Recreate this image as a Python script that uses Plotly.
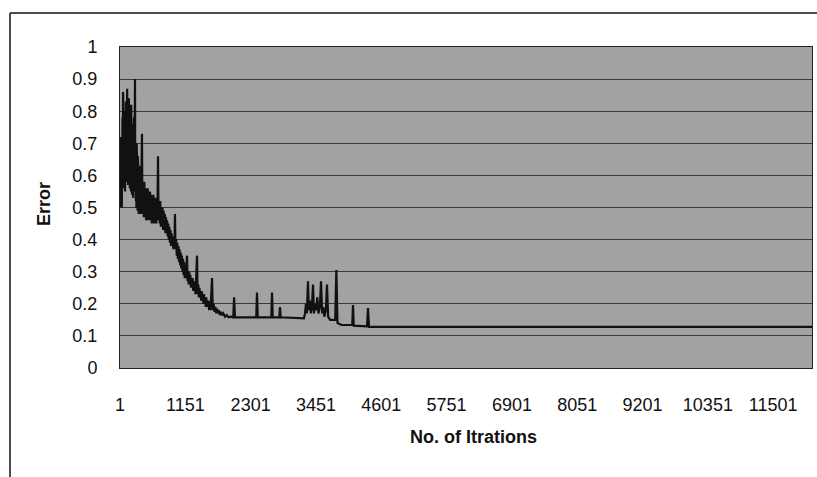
import plotly.graph_objects as go

# ---- data ----
iterations = [
    1, 5, 9, 13, 17, 21, 25, 29, 33, 37, 41, 45, 49, 55, 60, 65, 70, 75, 80, 85, 90, 95, 100,
    105, 110, 115, 120, 127, 133, 138, 143, 148, 153, 158, 163, 168, 173, 178, 183, 188, 193,
    198, 203, 208, 213, 218, 223, 228, 233, 238, 243, 248, 253, 258, 265, 270, 275, 280, 285,
    290, 295, 300, 305, 310, 315, 320, 325, 330, 335, 340, 345, 350, 355, 360, 365, 370, 378,
    388, 395, 400, 405, 410, 420, 430, 440, 450, 460, 470, 480, 490, 500, 510, 520, 530, 540,
    550, 560, 570, 580, 590, 600, 610, 620, 630, 640, 650, 660, 670, 680, 690, 700, 710, 720,
    730, 740, 750, 760, 770, 780, 790, 800, 810, 820, 830, 840, 850, 860, 870, 880, 890, 900,
    910, 920, 930, 940, 950, 960, 969, 978, 990, 1000, 1010, 1020, 1030, 1040, 1050, 1060,
    1070, 1080, 1090, 1100, 1110, 1120, 1130, 1140, 1150, 1160, 1170, 1181, 1190, 1200, 1210,
    1220, 1230, 1240, 1250, 1260, 1270, 1280, 1290, 1300, 1310, 1320, 1330, 1340, 1357, 1367,
    1380, 1390, 1400, 1410, 1420, 1430, 1440, 1450, 1460, 1470, 1480, 1490, 1500, 1510, 1520,
    1530, 1540, 1550, 1560, 1570, 1580, 1590, 1600, 1621, 1635, 1650, 1665, 1680, 1695, 1710,
    1725, 1740, 1760, 1780, 1800, 1820, 1850, 1880, 1910, 1950, 1995, 2010, 2025, 2400, 2413,
    2426, 2665, 2677, 2690, 2805, 2818, 2830, 3240, 3258, 3275, 3290, 3311, 3325, 3345, 3360,
    3380, 3399, 3415, 3435, 3455, 3475, 3495, 3520, 3540, 3560, 3580, 3600, 3625, 3645, 3665,
    3700, 3790, 3810, 3830, 3900, 4090, 4103, 4116, 4350, 4367, 4385, 12184,
]
error = [
    0.55, 0.60, 0.50, 0.66, 0.52, 0.72, 0.55, 0.62, 0.50, 0.70, 0.56, 0.78, 0.58, 0.86, 0.60, 0.74, 0.56, 0.80, 0.60, 0.72, 0.55, 0.78, 0.62,
    0.83, 0.58, 0.76, 0.62, 0.87, 0.60, 0.80, 0.57, 0.75, 0.60, 0.84, 0.58, 0.72, 0.56, 0.80, 0.58, 0.70, 0.55,
    0.82, 0.60, 0.68, 0.54, 0.76, 0.57, 0.66, 0.53, 0.72, 0.55, 0.78, 0.56, 0.70, 0.90, 0.55, 0.68, 0.52, 0.64,
    0.50, 0.70, 0.52, 0.62, 0.49, 0.66, 0.51, 0.60, 0.48, 0.62, 0.50, 0.58, 0.48, 0.63, 0.50, 0.57, 0.48, 0.62,
    0.73, 0.50, 0.56, 0.48, 0.57, 0.47, 0.58, 0.47, 0.56, 0.46, 0.55, 0.46, 0.56, 0.47, 0.54, 0.46, 0.55, 0.47,
    0.54, 0.45, 0.53, 0.46, 0.54, 0.45, 0.53, 0.46, 0.52, 0.45, 0.53, 0.47, 0.66, 0.46, 0.52, 0.45, 0.52, 0.44,
    0.50, 0.44, 0.50, 0.43, 0.49, 0.43, 0.48, 0.42, 0.47, 0.42, 0.46, 0.41, 0.45, 0.40, 0.44, 0.39, 0.43, 0.38,
    0.42, 0.38, 0.41, 0.37, 0.41, 0.38, 0.48, 0.37, 0.40, 0.35, 0.39, 0.34, 0.38, 0.33, 0.37, 0.32,
    0.36, 0.31, 0.35, 0.30, 0.34, 0.29, 0.33, 0.28, 0.32, 0.28, 0.31, 0.35, 0.27, 0.30, 0.26,
    0.30, 0.26, 0.29, 0.25, 0.28, 0.25, 0.28, 0.24, 0.27, 0.24, 0.27, 0.23, 0.26, 0.35, 0.23,
    0.26, 0.22, 0.25, 0.22, 0.24, 0.21, 0.24, 0.21, 0.23, 0.20, 0.23, 0.20, 0.22, 0.19, 0.22,
    0.19, 0.21, 0.19, 0.21, 0.18, 0.20, 0.18, 0.20, 0.28, 0.18, 0.20, 0.175, 0.19, 0.17, 0.185,
    0.17, 0.18, 0.165, 0.175, 0.165, 0.17, 0.16, 0.165, 0.158, 0.16, 0.158, 0.22, 0.158, 0.158, 0.235,
    0.158, 0.158, 0.235, 0.158, 0.158, 0.19, 0.158, 0.155, 0.17, 0.20, 0.17, 0.27, 0.18, 0.21, 0.17,
    0.19, 0.26, 0.17, 0.20, 0.18, 0.22, 0.17, 0.19, 0.27, 0.17, 0.19, 0.16, 0.18, 0.26, 0.16,
    0.15, 0.15, 0.305, 0.14, 0.134, 0.134, 0.196, 0.132, 0.13, 0.187, 0.128, 0.128,
]

x_tick_vals = [1, 1151, 2301, 3451, 4601, 5751, 6901, 8051, 9201, 10351, 11501]
y_tick_vals = [0, 0.1, 0.2, 0.3, 0.4, 0.5, 0.6, 0.7, 0.8, 0.9, 1]
y_tick_text = ["0", "0.1", "0.2", "0.3", "0.4", "0.5", "0.6", "0.7", "0.8", "0.9", "1"]
x_title = "No. of Itrations"
y_title = "Error"
last_iteration = 12184

fig = go.Figure()
fig.add_trace(go.Scatter(
    x=iterations, y=error, mode="lines",
    line=dict(color="#111111", width=2.2),
    showlegend=False, hoverinfo="skip",
))

W, H = 817, 477
L, R, T, B = 120, 5, 47, 109
PW, PH = W - L - R, H - T - B

fig.update_layout(
    width=W, height=H,
    margin=dict(l=L, r=R, t=T, b=B, autoexpand=False),
    paper_bgcolor="white",
    plot_bgcolor="#a2a2a2",
    font=dict(family="Liberation Sans, Arial, sans-serif", color="#111111"),
    xaxis=dict(
        range=[1, last_iteration],
        tickvals=x_tick_vals,
        ticktext=[str(v) for v in x_tick_vals],
        showgrid=False, zeroline=False,
        showline=True, linecolor="#222222", linewidth=1, mirror=True,
        ticks="", ticklabelstandoff=20,
        tickfont=dict(size=18, color="#111111"),
    ),
    yaxis=dict(
        range=[0, 1],
        tickvals=y_tick_vals,
        ticktext=y_tick_text,
        showgrid=True, gridcolor="#3a3a3a", gridwidth=1, zeroline=False,
        showline=True, linecolor="#222222", linewidth=1, mirror=True,
        ticks="", ticklabelstandoff=18,
        tickfont=dict(size=18, color="#111111"),
    ),
    annotations=[
        dict(text="<b>" + x_title + "</b>", xref="paper", yref="paper",
             x=(473 - L) / PW, y=-(437 - (H - B)) / PH,
             showarrow=False, font=dict(size=18, color="#111111"),
             xanchor="center", yanchor="middle"),
        dict(text="<b>" + y_title + "</b>", xref="paper", yref="paper",
             x=-(L - 44) / PW, y=(H - B - 204) / PH,
             showarrow=False, textangle=-90, font=dict(size=18, color="#111111"),
             xanchor="center", yanchor="middle"),
    ],
    shapes=[
        dict(type="line", xref="paper", yref="paper",
             x0=-(L - 10) / PW, x1=(W - L) / PW,
             y0=(H - B - 13) / PH, y1=(H - B - 13) / PH,
             line=dict(color="#111111", width=1.5)),
        dict(type="line", xref="paper", yref="paper",
             x0=-(L - 10) / PW, x1=-(L - 10) / PW,
             y0=(H - B - 13) / PH, y1=-B / PH,
             line=dict(color="#111111", width=1.5)),
    ],
)

fig.write_html(
    "out.html",
    config={"displayModeBar": False, "staticPlot": True},
    post_script="document.body.style.margin='0';document.body.style.padding='0';",
)
